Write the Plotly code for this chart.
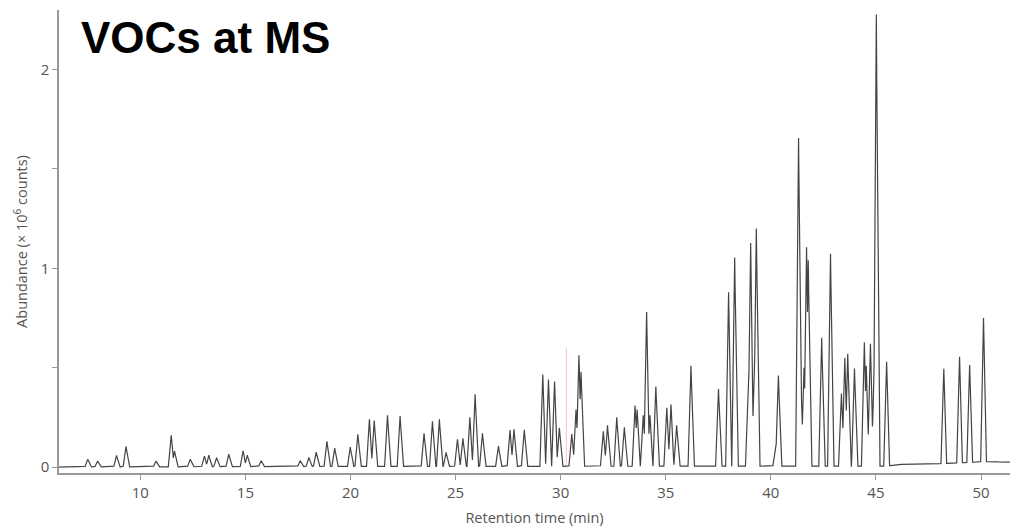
import numpy as np
import plotly.graph_objects as go

# Peak table: retention time (min) and apex abundance (x 10^6 counts)
peak_time = [
    7.50, 7.97, 8.87, 9.32, 10.75, 11.47, 11.63, 12.38, 13.05, 13.26,
    13.63, 14.21, 14.89, 15.09, 15.75, 17.61, 18.02, 18.37, 18.88, 19.25,
    19.99, 20.35, 20.90, 21.13, 21.76, 22.36, 23.50, 23.90, 24.23, 24.55,
    25.09, 25.35, 25.68, 25.93, 26.28, 27.04, 27.59, 27.78, 28.27, 29.15,
    29.42, 29.71, 29.94, 30.53, 30.73, 30.87, 30.97, 32.03, 32.23, 32.67,
    33.03, 33.54, 33.64, 33.93, 34.09, 34.25, 34.53, 35.05, 35.25, 35.52,
    36.20, 37.51, 37.99, 38.28, 38.93, 39.04, 39.21, 39.31, 40.23, 40.36,
    41.32, 41.42, 41.58, 41.70, 41.78, 42.42, 42.84, 43.36, 43.52, 43.66,
    43.98, 44.45, 44.54, 44.74, 44.90, 45.02, 45.51, 46.30, 48.23, 48.98,
    49.46, 50.12,
]
peak_height = [
    0.040, 0.030, 0.058, 0.104, 0.030, 0.160, 0.080, 0.040, 0.055, 0.060,
    0.047, 0.065, 0.082, 0.060, 0.032, 0.032, 0.048, 0.075, 0.130, 0.095,
    0.100, 0.165, 0.240, 0.234, 0.260, 0.257, 0.170, 0.230, 0.240, 0.074,
    0.140, 0.145, 0.250, 0.366, 0.170, 0.105, 0.186, 0.190, 0.188, 0.465,
    0.440, 0.430, 0.198, 0.166, 0.290, 0.562, 0.480, 0.180, 0.210, 0.250,
    0.200, 0.310, 0.290, 0.260, 0.780, 0.260, 0.405, 0.298, 0.315, 0.210,
    0.510, 0.393, 0.880, 1.055, 0.360, 1.127, 0.450, 1.200, 0.100, 0.460,
    1.656, 0.470, 0.500, 1.106, 1.040, 0.650, 1.073, 0.370, 0.548, 0.570,
    0.496, 0.628, 0.510, 0.620, 0.380, 2.277, 0.530, 0.012, 0.495, 0.555,
    0.514, 0.750,
]

# Detector baseline level along the run
baseline_time = [6.13, 20.0, 45.6, 46.0, 48.0, 50.3, 51.38]
baseline_level = [0.000, 0.003, 0.005, 0.013, 0.017, 0.027, 0.025]

x_ticks = [10, 15, 20, 25, 30, 35, 40, 45, 50]

PEAK_HALF_WIDTH = 0.14  # min, half-width of each drawn peak at its base

# Sample the trace on a fine time grid that also contains every apex
pt = np.array(peak_time)
ph = np.array(peak_height)
t = np.union1d(np.arange(baseline_time[0], baseline_time[-1], 0.005), pt)
base = np.interp(t, baseline_time, baseline_level)
profiles = ph[:, None] * np.clip(1 - np.abs(t[None, :] - pt[:, None]) / PEAK_HALF_WIDTH, 0, None)
signal = np.maximum(base, profiles.max(axis=0))

fig = go.Figure()
fig.add_trace(go.Scatter(
    x=t, y=signal, mode="lines",
    line=dict(color="#444444", width=1.2),
    hoverinfo="skip", showlegend=False,
))

# faint marker line at 30.27 min
fig.add_shape(type="line", xref="x", yref="y", x0=30.27, x1=30.27, y0=-0.005, y1=0.6,
              line=dict(color="rgba(240,120,120,0.45)", width=1))

tick_font = dict(family="Open Sans, Liberation Sans, sans-serif", size=15, color="#555555")
title_font = dict(family="Open Sans, Liberation Sans, sans-serif", size=14.5, color="#555555")

fig.update_layout(
    width=1017, height=531,
    margin=dict(l=59, r=7, t=10, b=58),
    paper_bgcolor="white", plot_bgcolor="white",
    showlegend=False,
    xaxis=dict(
        range=[6.13, 51.38], tickvals=x_ticks, ticktext=[str(v) for v in x_ticks],
        showgrid=False, zeroline=False, showline=True, linecolor="#999999", linewidth=1.5,
        ticks="outside", ticklen=5, tickcolor="#999999", tickfont=tick_font,
        title=dict(text="Retention time (min)", font=title_font, standoff=12),
    ),
    yaxis=dict(
        range=[-0.03, 2.30], tickmode="linear", tick0=0, dtick=1,
        showgrid=False, zeroline=False, showline=True, linecolor="#999999", linewidth=1.5,
        ticks="outside", ticklen=5, tickcolor="#999999", tickfont=tick_font,
        minor=dict(tick0=0, dtick=0.5, ticks="outside", ticklen=5, tickcolor="#999999",
                   showgrid=False),
        title=dict(text="Abundance (× 10<sup>6</sup> counts)", font=title_font, standoff=10),
    ),
    annotations=[dict(
        text="<b>VOCs at MS</b>", xref="paper", yref="paper", x=0.021, y=0.997,
        xanchor="left", yanchor="top", showarrow=False,
        font=dict(family="Liberation Sans, Arial, sans-serif", size=44, color="black"),
    )],
)

fig.write_html("out.html")
